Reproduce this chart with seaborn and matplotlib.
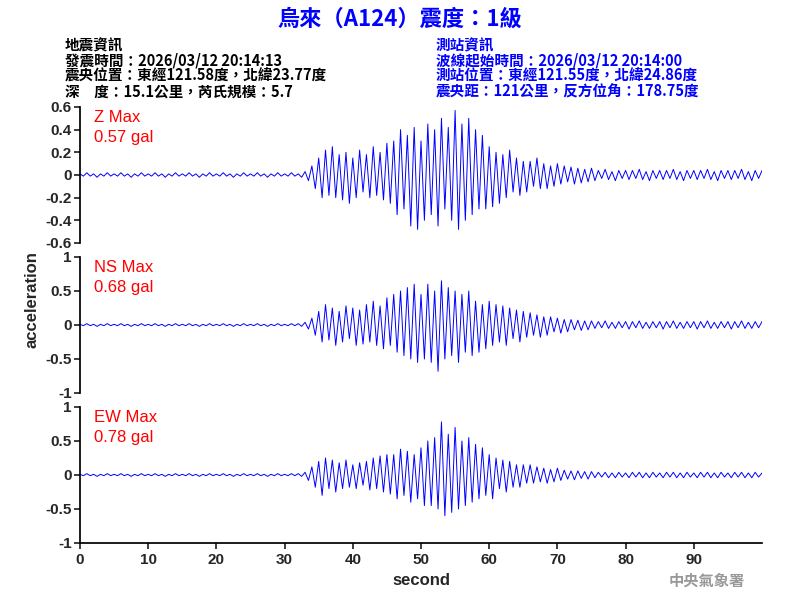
import matplotlib
matplotlib.use("Agg")
import matplotlib.pyplot as plt
import seaborn as sns
import numpy as np
import pandas as pd

sns.set_theme(style="white")
plt.rcParams['font.family'] = ['Noto Sans CJK TC', 'DejaVu Sans']

quiet = [0.01,-0.01,0.02,-0.01,0.01,-0.02,0.01,-0.01,0.02,-0.01]
z_vals = (quiet*6 + [0.01,-0.01,0.02,-0.01,0.01,-0.02,
  0.03,-0.05,0.08,-0.12,0.15,-0.2,0.22,-0.18,0.25,-0.2,0.18,-0.22,0.2,-0.25,0.15,-0.2,
  0.22,-0.15,0.18,-0.2,0.25,-0.18,0.2,-0.22,0.28,-0.25,
  0.3,-0.35,0.4,-0.3,0.35,-0.45,0.42,-0.48,0.3,-0.4,
  0.45,-0.35,0.4,-0.45,0.5,-0.3,0.42,-0.4,0.57,-0.48,
  0.45,-0.4,0.5,-0.35,0.4,-0.3,0.35,-0.3,0.25,-0.28,
  0.2,-0.25,0.18,-0.2,0.22,-0.15,0.15,-0.18,0.12,-0.15,
  0.12,-0.1,0.15,-0.12,0.1,-0.12,0.08,-0.1,0.1,-0.08,
  0.08,-0.06,0.07,-0.08,0.06,-0.07,0.05,-0.06,0.06,-0.05]
  + [0.04,-0.03,0.05,-0.04,0.03,-0.05,0.04,-0.03,0.04,-0.04]*5)
ns_vals = (quiet*6 + [0.01,-0.01,0.02,-0.01,0.02,-0.02,
  0.04,-0.06,0.1,-0.15,0.2,-0.25,0.3,-0.22,0.25,-0.3,0.2,-0.25,0.28,-0.2,0.25,-0.3,
  0.22,-0.28,0.3,-0.25,0.35,-0.3,0.28,-0.35,0.4,-0.3,
  0.45,-0.4,0.5,-0.45,0.55,-0.5,0.6,-0.55,0.45,-0.5,
  0.6,-0.55,0.5,-0.68,0.65,-0.5,0.55,-0.45,0.5,-0.55,
  0.45,-0.4,0.5,-0.45,0.35,-0.4,0.3,-0.35,0.35,-0.3,
  0.3,-0.25,0.28,-0.3,0.25,-0.2,0.22,-0.25,0.2,-0.18,
  0.18,-0.15,0.15,-0.18,0.12,-0.15,0.12,-0.1,0.1,-0.12,
  0.08,-0.1,0.08,-0.07,0.07,-0.08,0.06,-0.07,0.06,-0.05]
  + [0.05,-0.04,0.06,-0.05,0.04,-0.05,0.05,-0.04,0.05,-0.06]*5)
ew_vals = (quiet*6 + [0.01,-0.01,0.02,-0.01,0.02,-0.02,
  0.04,-0.08,0.12,-0.18,0.2,-0.3,0.25,-0.2,0.22,-0.25,0.18,-0.2,0.22,-0.18,0.15,-0.2,
  0.18,-0.15,0.2,-0.22,0.25,-0.2,0.28,-0.25,0.3,-0.28,
  0.3,-0.35,0.38,-0.3,0.35,-0.4,0.3,-0.35,0.4,-0.45,
  0.5,-0.45,0.55,-0.5,0.78,-0.6,0.6,-0.55,0.7,-0.5,
  0.5,-0.45,0.55,-0.4,0.45,-0.35,0.4,-0.3,0.3,-0.35,
  0.25,-0.2,0.22,-0.25,0.2,-0.18,0.15,-0.18,0.15,-0.12,
  0.15,-0.12,0.12,-0.1,0.1,-0.12,0.08,-0.1,0.1,-0.08,
  0.07,-0.06,0.06,-0.07,0.06,-0.05,0.05,-0.06,0.05,-0.04]
  + [0.04,-0.03,0.04,-0.04,0.03,-0.04,0.04,-0.03,0.03,-0.04]*5)

comps = ["Z", "NS", "EW"]
maxes = ["0.57", "0.68", "0.78"]
series = [z_vals, ns_vals, ew_vals]
ylims = [(-0.6, 0.6), (-1, 1), (-1, 1)]
yticks = [[-0.6,-0.4,-0.2,0,0.2,0.4,0.6], [-1,-0.5,0,0.5,1], [-1,-0.5,0,0.5,1]]
ylabels = [["-0.6","-0.4","-0.2","0","0.2","0.4","0.6"], ["-1","-0.5","0","0.5","1"], ["-1","-0.5","0","0.5","1"]]

F = "Liberation Sans"
fig = plt.figure(figsize=(8, 6), dpi=100)
tops = [107, 257, 407]
for i in range(3):
    ax = fig.add_axes([80/800, 1-(tops[i]+136)/600, 682/800, 136/600])
    v = series[i]
    df = pd.DataFrame({"t": np.arange(len(v))*0.5, "a": v})
    sns.lineplot(data=df, x="t", y="a", ax=ax, color="blue", linewidth=0.7)
    ax.set_xlim(0, 100); ax.set_ylim(*ylims[i])
    ax.set_yticks(yticks[i]); ax.set_yticklabels(ylabels[i], fontsize=11, family=F, fontweight="bold")
    ax.tick_params(axis="y", left=True, length=4, pad=2)
    for s in ["top", "right"]:
        ax.spines[s].set_visible(False)
    ax.spines["left"].set_color("black"); ax.spines["bottom"].set_color("black")
    ax.set_ylabel(""); ax.set_xlabel("")
    ax.text(0.02, 0.98, f"{comps[i]} Max\n{maxes[i]} gal", transform=ax.transAxes,
            color="red", fontsize=12, va="top", family=F, linespacing=1.4)
    if i < 2:
        ax.spines["bottom"].set_visible(False)
        ax.set_xticks([])
    else:
        ax.set_xticks(range(0, 100, 10))
        ax.set_xticklabels([str(t) for t in range(0, 100, 10)], fontsize=11, family=F, fontweight="bold")
        ax.tick_params(axis="x", bottom=True, length=4)
        ax.set_xlabel("second", fontsize=12, family=F, fontweight="bold")

fig.text(0.04, 0.5, "acceleration", rotation=90, va="center", ha="center", fontsize=12, family=F, fontweight="bold")
fig.text(0.5, 0.968, "烏來（A124）震度：1級", color="blue", fontsize=16, fontweight="bold", ha="center", va="center")
left = ["地震資訊", "發震時間：2026/03/12 20:14:13", "震央位置：東經121.58度，北緯23.77度", "深　度：15.1公里，芮氏規模：5.7"]
right = ["測站資訊", "波線起始時間：2026/03/12 20:14:00", "測站位置：東經121.55度，北緯24.86度", "震央距：121公里，反方位角：178.75度"]
for k in range(4):
    y = 1 - (45 + k*15.5)/600
    fig.text(65/800, y, left[k], fontsize=10.5, color="black", va="center", fontweight="bold")
    fig.text(436/800, y, right[k], fontsize=10.5, color="blue", va="center", fontweight="bold")
fig.text(745/800, 1-581/600, "中央氣象署", fontsize=11, color="#999999", ha="right", va="center", fontweight="bold")
fig.savefig("out.png", dpi=100)
